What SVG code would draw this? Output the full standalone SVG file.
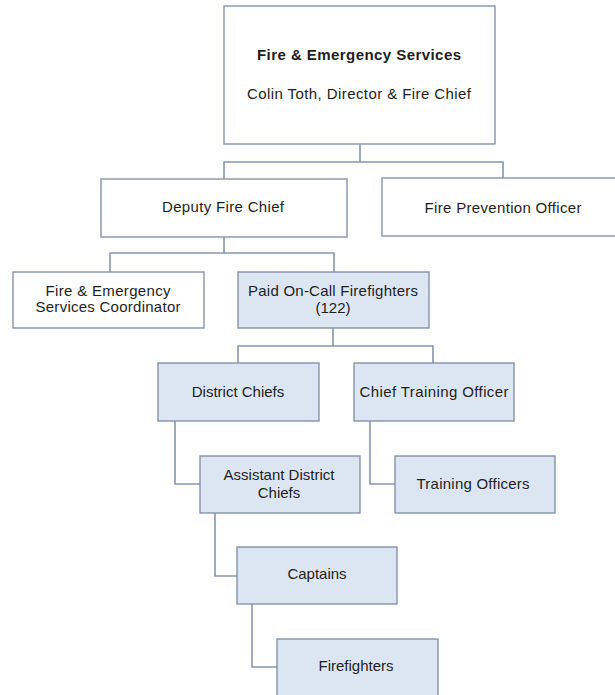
<svg xmlns="http://www.w3.org/2000/svg" width="615" height="695" viewBox="0 0 615 695">
  <style>
    .box { fill: #ffffff; stroke: #7d8ca3; stroke-width: 1.3; }
    .box.blue { fill: #dce6f2; }
    .lbl { font-family: "Liberation Sans", Arial, sans-serif; font-size: 15px; fill: #1e1e1e; text-anchor: middle; }
    .bold { font-weight: bold; }
    .conn { fill: none; stroke: #8797ad; stroke-width: 1.6; }
  </style>
  <rect width="615" height="695" fill="#ffffff"/>

  <!-- connectors -->
  <g id="connectors" class="conn">
    <path d="M360,144 V162 M224,179 V162 H503 V178"/>
    <path d="M224,237 V253 M110,272 V253 H334 V272"/>
    <path d="M333,328 V346 M238,363 V346 H433 V363"/>
    <path d="M175,421 V484 H200"/>
    <path d="M370,421 V484 H395"/>
    <path d="M215,513 V576 H237"/>
    <path d="M252,604 V667 H277"/>
  </g>

  <g id="fire-emergency-services">
    <rect class="box" x="224" y="6" width="271" height="138"/>
    <text class="lbl bold" x="359" y="60" textLength="204" lengthAdjust="spacing">Fire &amp; Emergency  Services</text>
    <text class="lbl" x="359" y="99" textLength="224" lengthAdjust="spacing">Colin Toth,  Director  &amp; Fire Chief</text>
  </g>

  <g id="deputy-fire-chief">
    <rect class="box" x="101" y="179" width="246" height="58"/>
    <text class="lbl" x="223" y="212" textLength="122" lengthAdjust="spacing">Deputy Fire Chief</text>
  </g>

  <g id="fire-prevention-officer">
    <rect class="box" x="382" y="178" width="245" height="58"/>
    <text class="lbl" x="503" y="213" textLength="157" lengthAdjust="spacing">Fire Prevention  Officer</text>
  </g>

  <g id="services-coordinator">
    <rect class="box" x="13" y="272" width="191" height="56"/>
    <text class="lbl" x="108" y="296" textLength="125" lengthAdjust="spacing">Fire &amp; Emergency</text>
    <text class="lbl" x="108" y="312" textLength="145" lengthAdjust="spacing">Services  Coordinator</text>
  </g>

  <g id="paid-on-call-firefighters">
    <rect class="box blue" x="238" y="272" width="191" height="56"/>
    <text class="lbl" x="333" y="296" textLength="170" lengthAdjust="spacing">Paid On-Call  Firefighters</text>
    <text class="lbl" x="333" y="313">(122)</text>
  </g>

  <g id="district-chiefs">
    <rect class="box blue" x="158" y="363" width="161" height="58"/>
    <text class="lbl" x="238" y="397">District Chiefs</text>
  </g>

  <g id="chief-training-officer">
    <rect class="box blue" x="354" y="363" width="160" height="58"/>
    <text class="lbl" x="434" y="397" textLength="149" lengthAdjust="spacing">Chief  Training  Officer</text>
  </g>

  <g id="assistant-district-chiefs">
    <rect class="box blue" x="200" y="456" width="160" height="57"/>
    <text class="lbl" x="279" y="480">Assistant District</text>
    <text class="lbl" x="279" y="498">Chiefs</text>
  </g>

  <g id="training-officers">
    <rect class="box blue" x="395" y="456" width="160" height="57"/>
    <text class="lbl" x="473" y="489" textLength="113" lengthAdjust="spacing">Training  Officers</text>
  </g>

  <g id="captains">
    <rect class="box blue" x="237" y="547" width="160" height="57"/>
    <text class="lbl" x="317" y="579">Captains</text>
  </g>

  <g id="firefighters">
    <rect class="box blue" x="277" y="639" width="161" height="60"/>
    <text class="lbl" x="356" y="671">Firefighters</text>
  </g>
</svg>
